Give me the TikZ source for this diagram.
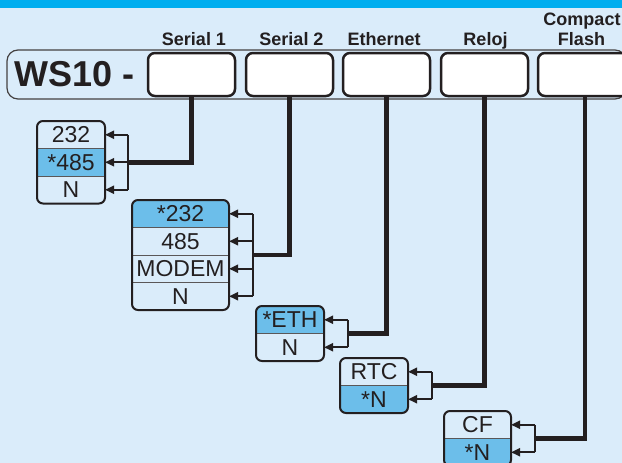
\documentclass[tikz,border=0pt]{standalone}
\usepackage{fontspec}
\setmainfont{Liberation Sans}
\usetikzlibrary{arrows.meta}
\definecolor{bg}{HTML}{DAECFA}
\definecolor{topbar}{HTML}{00AEEF}
\definecolor{hl}{HTML}{6CBEEA}
\definecolor{ink}{HTML}{231F20}
\pgfdeclarelayer{bgl}
\pgfsetlayers{bgl,main}
\begin{document}
\begin{tikzpicture}[x=1pt,y=-1pt,
  inbox/.style={draw=ink,line width=2.5pt,rounded corners=7pt,fill=white,minimum height=43pt,inner sep=0pt},
  hdr/.style={font=\fontsize{18}{18}\selectfont\bfseries,text=ink,inner sep=0pt,anchor=base},
  opt/.style={font=\fontsize{23}{23}\selectfont,text=ink,inner sep=0pt,outer sep=0pt,minimum height=27.5pt},
  optframe/.style={draw=ink,line width=2pt,rounded corners=6pt},
  sepline/.style={draw=ink!75,line width=0.9pt},
  mainline/.style={draw=ink,line width=4.5pt},
  forkline/.style={draw=ink,line width=2.2pt,line cap=square},
  arr/.style={draw=ink,line width=2.2pt,-{Triangle[length=9pt,width=8pt]}}
]
\useasboundingbox (0,0) rectangle (622,463);
\clip (0,0) rectangle (622,463);
\begin{pgfonlayer}{bgl}
\fill[bg] (0,0) rectangle (622,463);
\fill[topbar] (0,0) rectangle (622,8);
\end{pgfonlayer}

% model bar
\draw[draw=ink!85,line width=1.2pt,rounded corners=11pt] (7,50) rectangle (626,99);
\node[font=\fontsize{36}{36}\selectfont\bfseries,text=ink,inner sep=0pt,anchor=west] (ws) at (14,74.5) {WS10 -};

% input boxes
\node[inbox,minimum width=87pt] (s1) at (191.5,74.5) {};
\node[inbox,minimum width=87pt] (s2) at (289.5,74.5) {};
\node[inbox,minimum width=87pt] (eth) at (386.5,74.5) {};
\node[inbox,minimum width=87pt] (rel) at (484.5,74.5) {};
\node[inbox,minimum width=94pt] (cf) at (585,74.5) {};

% headers
\node[hdr] (h1) at (194,45.5) {Serial 1};
\node[hdr] (h2) at (291.5,45.5) {Serial 2};
\node[hdr] (h3) at (384.2,45.5) {Ethernet};
\node[hdr] (h4) at (485.5,45.5) {Reloj};
\node[hdr] (h5a) at (582,25) {Compact};
\node[hdr] (h5b) at (581.5,45.5) {Flash};

% option box 1
\node[opt,minimum width=68pt] (b1a) at (71,134.75) {232};
\node[opt,minimum width=68pt] (b1b) at (71,162.25) {*485};
\node[opt,minimum width=68pt] (b1c) at (71,189.75) {N};
% option box 2
\node[opt,minimum width=97pt] (b2a) at (180.5,213.75) {*232};
\node[opt,minimum width=97pt] (b2b) at (180.5,241.25) {485};
\node[opt,minimum width=97pt] (b2c) at (180.5,268.75) {MODEM};
\node[opt,minimum width=97pt] (b2d) at (180.5,296.25) {N};
% option box 3
\node[opt,minimum width=68pt] (b3a) at (290,319.75) {*ETH};
\node[opt,minimum width=68pt] (b3b) at (290,347.25) {N};
% option box 4
\node[opt,minimum width=68pt] (b4a) at (374,371.75) {RTC};
\node[opt,minimum width=68pt] (b4b) at (374,399.25) {*N};
% option box 5
\node[opt,minimum width=67pt] (b5a) at (477.5,424.75) {CF};
\node[opt,minimum width=67pt] (b5b) at (477.5,452.25) {*N};

% highlights
\begin{pgfonlayer}{bgl}
\begin{scope}
\clip[rounded corners=6pt] (b1a.north west) rectangle (b1c.south east);
\fill[hl] (b1b.north west) rectangle (b1b.south east);
\end{scope}
\begin{scope}
\clip[rounded corners=6pt] (b2a.north west) rectangle (b2d.south east);
\fill[hl] (b2a.north west) rectangle (b2a.south east);
\end{scope}
\begin{scope}
\clip[rounded corners=6pt] (b3a.north west) rectangle (b3b.south east);
\fill[hl] (b3a.north west) rectangle (b3a.south east);
\end{scope}
\begin{scope}
\clip[rounded corners=6pt] (b4a.north west) rectangle (b4b.south east);
\fill[hl] (b4b.north west) rectangle (b4b.south east);
\end{scope}
\begin{scope}
\clip[rounded corners=6pt] (b5a.north west) rectangle (b5b.south east);
\fill[hl] (b5b.north west) rectangle (b5b.south east);
\end{scope}
\end{pgfonlayer}

% separators and frames
\draw[sepline] (b1a.south west) -- (b1a.south east);
\draw[sepline] (b1b.south west) -- (b1b.south east);
\draw[optframe] (b1a.north west) rectangle (b1c.south east);
\draw[sepline] (b2a.south west) -- (b2a.south east);
\draw[sepline] (b2b.south west) -- (b2b.south east);
\draw[sepline] (b2c.south west) -- (b2c.south east);
\draw[optframe] (b2a.north west) rectangle (b2d.south east);
\draw[sepline] (b3a.south west) -- (b3a.south east);
\draw[optframe] (b3a.north west) rectangle (b3b.south east);
\draw[sepline] (b4a.south west) -- (b4a.south east);
\draw[optframe] (b4a.north west) rectangle (b4b.south east);
\draw[sepline] (b5a.south west) -- (b5a.south east);
\draw[optframe] (b5a.north west) rectangle (b5b.south east);

% fork points
\coordinate (f1) at (128,162.25);
\coordinate (f2) at (253,255);
\coordinate (f3) at (348,333.5);
\coordinate (f4) at (432,385.5);
\coordinate (f5) at (535,438.5);

% main connectors
\draw[mainline] (s1.south) |- (f1);
\draw[mainline] (s2.south) |- (f2);
\draw[mainline] (eth.south) |- (f3);
\draw[mainline] (rel.south) |- (f4);
\draw[mainline] (cf.south) |- (f5);

% forks
\draw[forkline] (b1a.east -| f1) -- (b1c.east -| f1);
\draw[arr] (b1a.east -| f1) -- (b1a.east);
\draw[arr] (b1b.east -| f1) -- (b1b.east);
\draw[arr] (b1c.east -| f1) -- (b1c.east);

\draw[forkline] (b2a.east -| f2) -- (b2d.east -| f2);
\draw[arr] (b2a.east -| f2) -- (b2a.east);
\draw[arr] (b2b.east -| f2) -- (b2b.east);
\draw[arr] (b2c.east -| f2) -- (b2c.east);
\draw[arr] (b2d.east -| f2) -- (b2d.east);

\draw[forkline] (b3a.east -| f3) -- (b3b.east -| f3);
\draw[arr] (b3a.east -| f3) -- (b3a.east);
\draw[arr] (b3b.east -| f3) -- (b3b.east);

\draw[forkline] (b4a.east -| f4) -- (b4b.east -| f4);
\draw[arr] (b4a.east -| f4) -- (b4a.east);
\draw[arr] (b4b.east -| f4) -- (b4b.east);

\draw[forkline] (b5a.east -| f5) -- (b5b.east -| f5);
\draw[arr] (b5a.east -| f5) -- (b5a.east);
\draw[arr] (b5b.east -| f5) -- (b5b.east);
\end{tikzpicture}
\end{document}
